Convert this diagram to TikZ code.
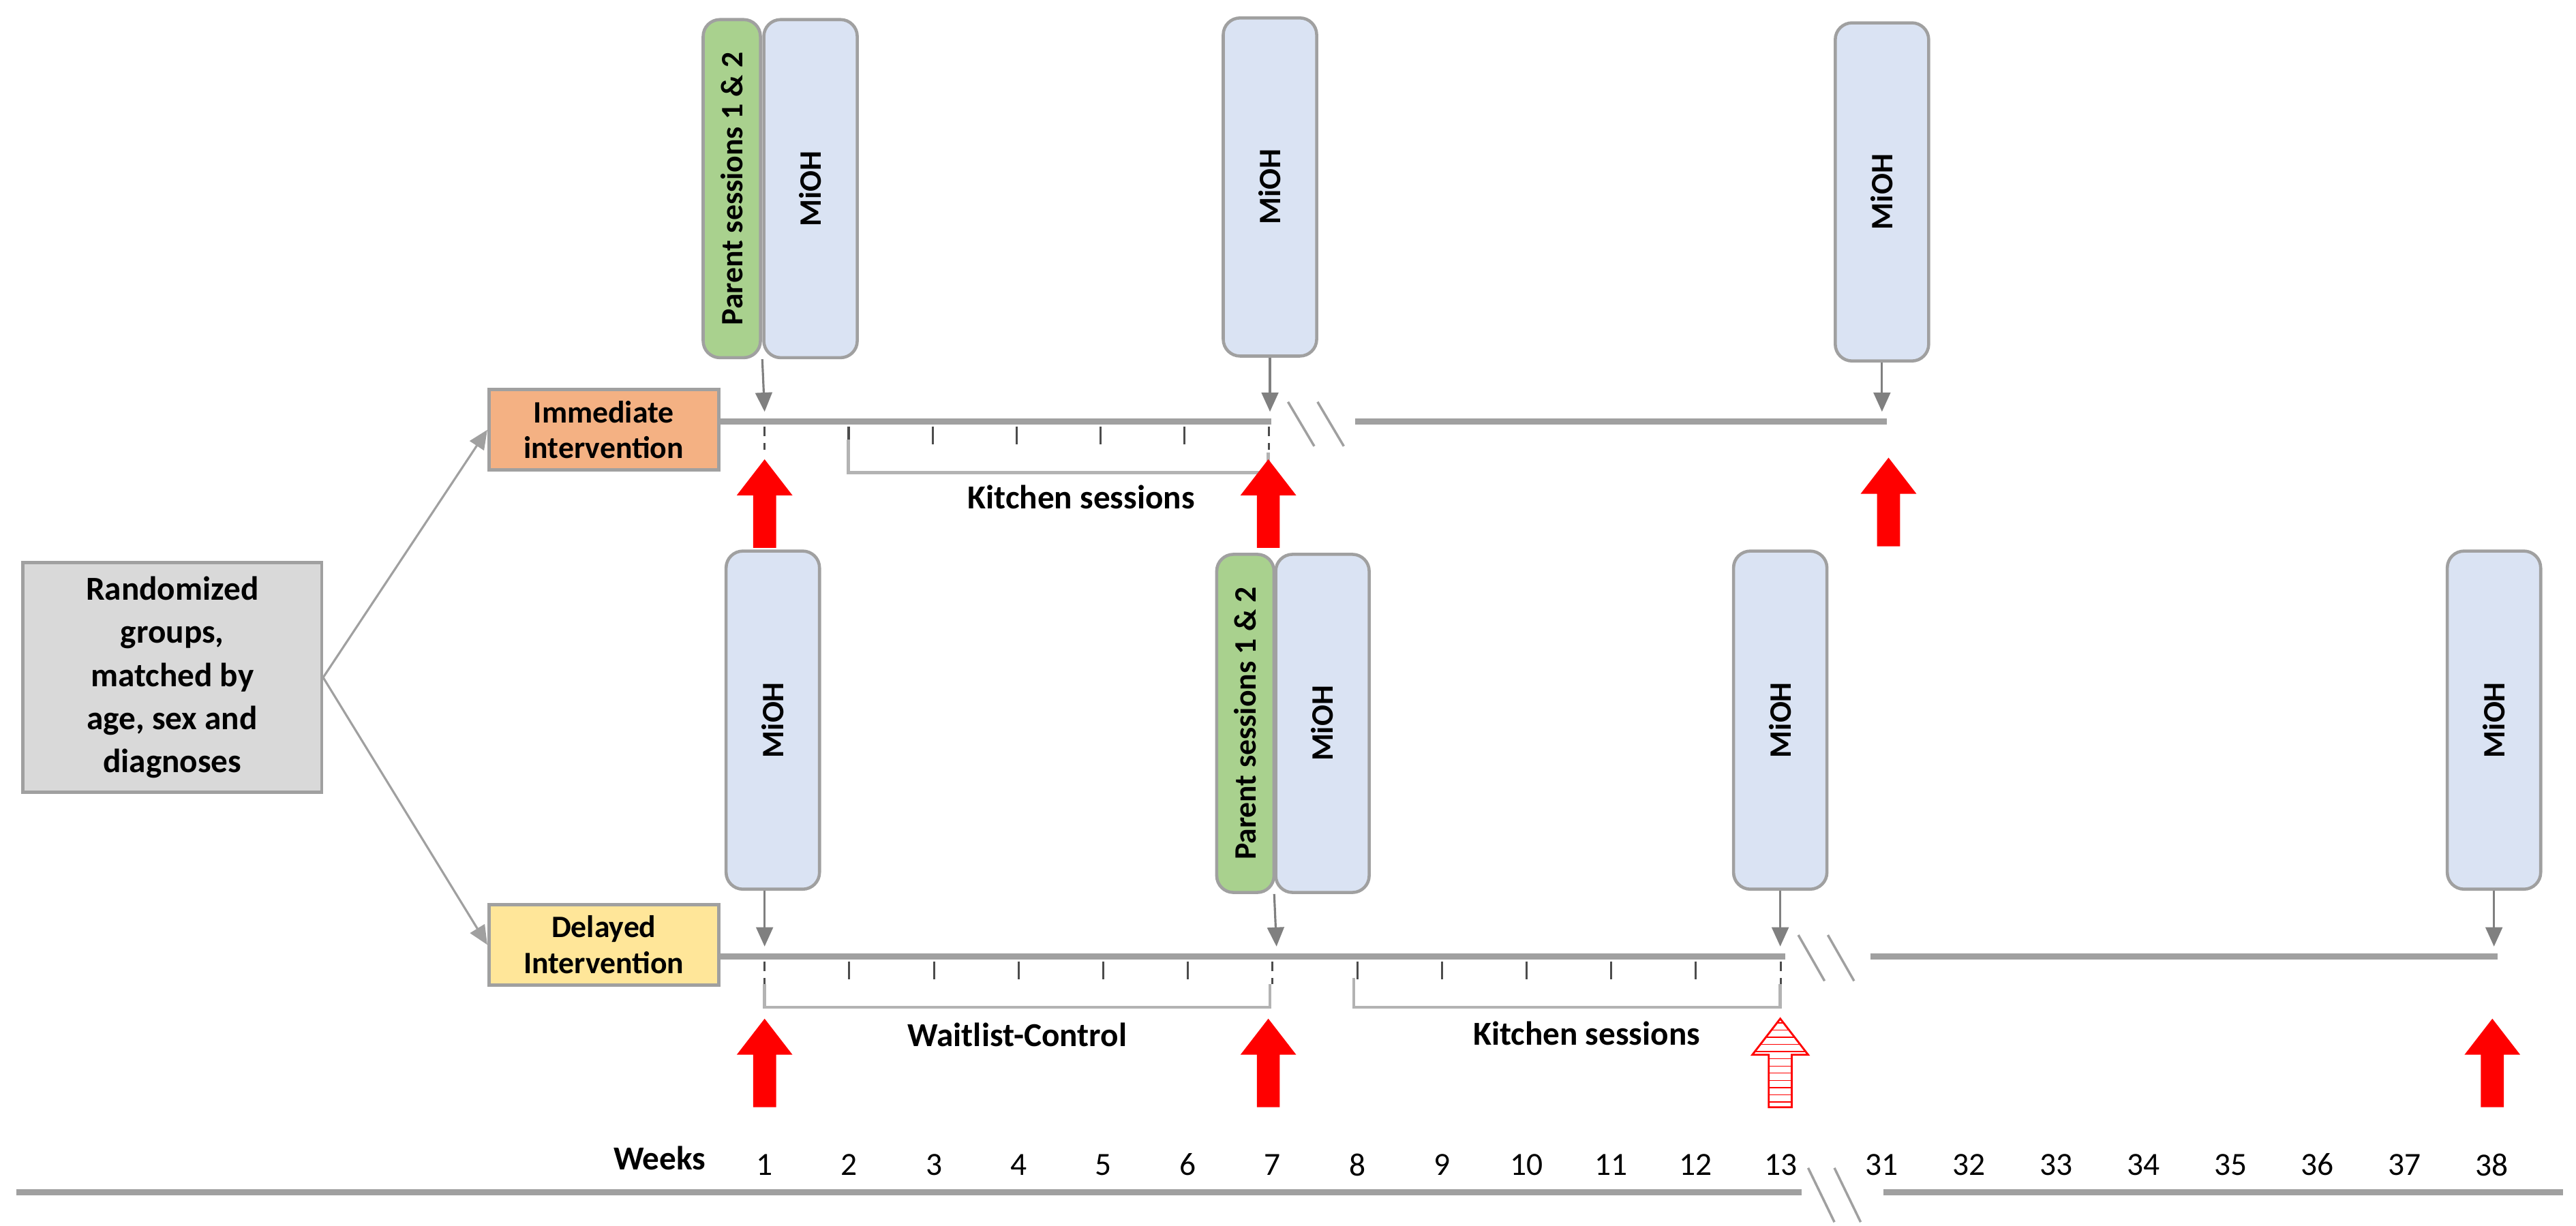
\documentclass[tikz,border=0pt]{standalone}
\usepackage{fontspec}
\setmainfont{Carlito}
\usetikzlibrary{arrows.meta,patterns}
\definecolor{miohblue}{HTML}{DAE3F3}
\definecolor{parentgreen}{HTML}{A9D18E}
\definecolor{immorange}{HTML}{F4B183}
\definecolor{delyellow}{HTML}{FFE699}
\definecolor{randgray}{HTML}{D9D9D9}
\definecolor{linegray}{HTML}{A0A0A0}
\newcommand{\bigup}[3][fill=red]{\path[#1] (#2-7,#3) -- ++(0,-32) -- ++(-10,0) -- (#2,#3-54) -- (#2+17,#3-32) -- ++(-10,0) -- ++(0,32) -- cycle;}
\tikzset{
  mioh/.style={draw=linegray, line width=1.3pt, rounded corners=7pt, fill=miohblue, rotate=90,
    minimum width=4.96cm, minimum height=1.37cm, inner sep=0pt, font=\bfseries\fontsize{13}{15}\selectfont},
  parent/.style={mioh, fill=parentgreen, minimum height=0.84cm},
  group/.style={draw=linegray, line width=1.3pt, align=center, minimum width=3.37cm, minimum height=1.18cm,
    inner sep=0pt, font=\bfseries\fontsize{13}{15}\selectfont},
  axis/.style={draw=linegray, line width=2.6pt},
  bracket/.style={draw=linegray!80, line width=1.3pt},
  pointer/.style={draw=gray, line width=0.9pt, -{Triangle[length=8pt,width=7pt]}},
  lbl/.style={font=\bfseries\fontsize{14}{16}\selectfont},
  wk/.style={font=\fontsize{13.5}{15}\selectfont}
}
\begin{document}
\begin{tikzpicture}[x=0.02407cm, y=-0.02407cm]
  \useasboundingbox (0,0) rectangle (1570,747);
  %%%%%%%%%%%%%%%%%%%%%%%%%%%%%%%%%%%%%%%%%%%%%%%
  \node[draw=linegray, line width=1.3pt, fill=randgray, align=center, minimum width=4.38cm, minimum height=3.37cm,
        font=\bfseries\fontsize{14}{18}\selectfont] at (105,413) (rand) {Randomized\\groups,\\matched by\\age, sex and\\diagnoses};
  \node[group, fill=immorange] at (368,262) (imm) {Immediate\\intervention};
  \node[group, fill=delyellow] at (368,576) (del) {Delayed\\Intervention};
  \draw[pointer, draw=linegray] (rand.east) -- (imm.west);
  \draw[pointer, draw=linegray] (rand.east) -- (del.west);
  %%%%%%%%%%%%%%%%%%%%%%%%%%%%%%%%%%%%%%%%%%%%%%%
  % immediate group
  \draw[axis] (438,257) -- (775,257);
  \draw[axis] (826,257) -- (1150,257);
  \draw[linegray, line width=1pt] (785,245) -- (801,272) (803,245) -- (819,272);
  \foreach \k in {2,...,6} \draw[black!70, line width=0.9pt] (466+51.2*\k-51.2,260) -- ++(0,11);
  \foreach \k in {1,7} \draw[black!70, line width=0.9pt, dash pattern=on 4pt off 3pt] (466+51.2*\k-51.2,260) -- ++(0,14);
  \draw[bracket] (517,268) -- (517,288) -- (773,288) -- (773,276);
  \node[lbl] at (659,303) (kitA) {Kitchen sessions};
  \node[parent] at (446,115) (parA) {Parent sessions 1 \& 2};
  \node[mioh] at (494,115) (mA1) {MiOH};
  \node[mioh] at (774,114) (mA2) {MiOH};
  \node[mioh] at (1147,117) (mA3) {MiOH};
  \coordinate (tA1) at (466,251);
  \coordinate (tA2) at (774,251);
  \coordinate (tA3) at (1147,251);
  \draw[pointer] (mA1.north west) -- (tA1);
  \draw[pointer] (mA2.west) -- (tA2);
  \draw[pointer] (mA3.west) -- (tA3);
  \bigup{466}{334}
  \bigup{773}{334}
  \bigup{1151}{333}
  %%%%%%%%%%%%%%%%%%%%%%%%%%%%%%%%%%%%%%%%%%%%%%%
  % delayed group
  \draw[axis] (438,583) -- (1088,583);
  \draw[axis] (1140,583) -- (1522,583);
  \draw[linegray, line width=1pt] (1096,570) -- (1112,598) (1114,570) -- (1130,598);
  \foreach \k in {2,...,6,8,9,10,11,12} \draw[black!70, line width=0.9pt] (466+51.6*\k-51.6,586) -- ++(0,11);
  \foreach \k in {1,7,13} \draw[black!70, line width=0.9pt, dash pattern=on 4pt off 3pt] (466+51.6*\k-51.6,586) -- ++(0,14);
  \draw[bracket] (466,600) -- (466,614) -- (774,614) -- (774,600);
  \draw[bracket] (825,596) -- (825,614) -- (1085,614) -- (1085,600);
  \node[lbl] at (620,631) (wait) {Waitlist-Control};
  \node[lbl] at (967,630) (kitB) {Kitchen sessions};
  \node[mioh] at (471,439) (mB1) {MiOH};
  \node[parent] at (759,441) (parB) {Parent sessions 1 \& 2};
  \node[mioh] at (806,441) (mB2) {MiOH};
  \node[mioh] at (1085,439) (mB3) {MiOH};
  \node[mioh] at (1520,439) (mB4) {MiOH};
  \coordinate (tB1) at (466,577);
  \coordinate (tB2) at (778,577);
  \coordinate (tB3) at (1085,577);
  \coordinate (tB4) at (1520,577);
  \draw[pointer] (mB1.west -| tB1) -- (tB1);
  \draw[pointer] (mB2.north west) -- (tB2);
  \draw[pointer] (mB3.west) -- (tB3);
  \draw[pointer] (mB4.west) -- (tB4);
  \bigup{466}{675}
  \bigup{773}{675}
  \bigup[draw=red, line width=0.8pt, pattern=horizontal lines, pattern color=red]{1085}{675}
  \bigup{1519}{675}
  %%%%%%%%%%%%%%%%%%%%%%%%%%%%%%%%%%%%%%%%%%%%%%%
  % week scale
  \node[lbl] at (402,706) (weeks) {Weeks};
  \foreach \k in {1,...,13} \node[wk] at (466+51.6*\k-51.6,710) (w\k) {\k};
  \foreach \k in {31,...,38} \node[wk] at (1147+53.1*\k-1646.1,710) (w\k) {\k};
  \draw[axis] (10,727) -- (1098,727);
  \draw[axis] (1148,727) -- (1562,727);
  \draw[linegray, line width=1pt] (1102,712) -- (1118,745) (1118,712) -- (1134,745);
\end{tikzpicture}
\end{document}
